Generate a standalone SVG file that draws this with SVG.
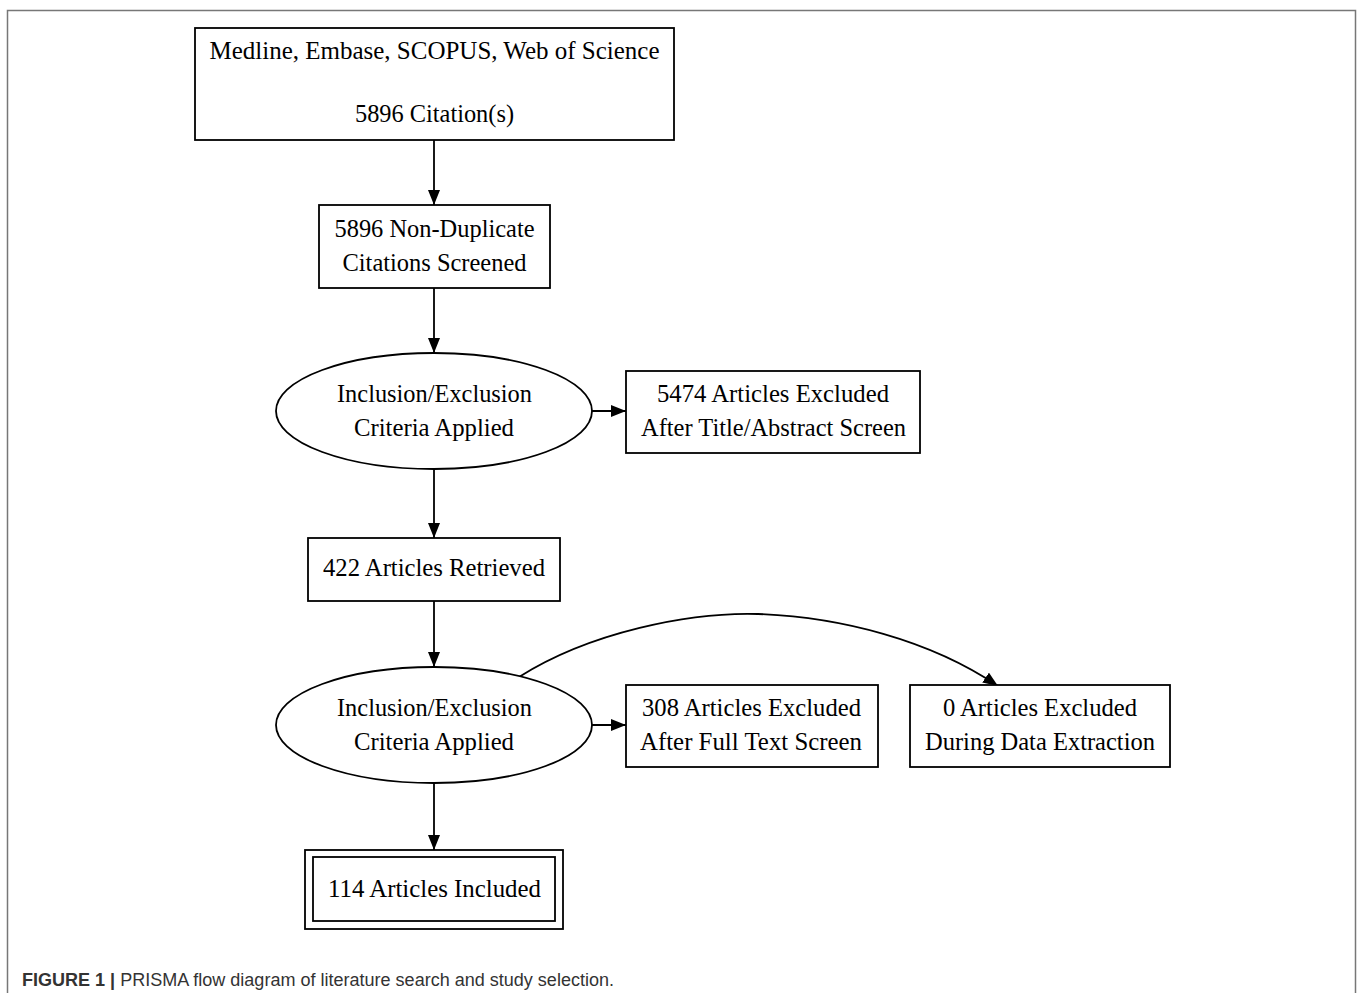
<svg xmlns="http://www.w3.org/2000/svg" width="1358" height="993" viewBox="0 0 1358 993">
<style>
.n{fill:#fff;stroke:#000;stroke-width:1.8}
.t{font-family:"Liberation Serif","Times New Roman",serif;font-size:25px;fill:#000;text-anchor:middle}
.e{fill:none;stroke:#000;stroke-width:1.8}
.cap{font-family:"Liberation Sans",Arial,sans-serif;font-size:17.5px;fill:#333}
</style>
<defs>
<marker id="ah" markerWidth="15" markerHeight="12" refX="15" refY="6" orient="auto" markerUnits="userSpaceOnUse" viewBox="0 0 15 12">
<path d="M0,0 L15,6 L0,12 Z" fill="#000"/>
</marker>
</defs>
<rect width="1358" height="993" fill="#fff"/>
<path d="M7.5,993 V10.5 H1355.5 V993" fill="none" stroke="#777" stroke-width="1.5"/>
<g id="connectors">
<path class="e" d="M434,140 V205" marker-end="url(#ah)"/>
<path class="e" d="M434,288 V353" marker-end="url(#ah)"/>
<path class="e" d="M592,411 H626" marker-end="url(#ah)"/>
<path class="e" d="M434,470 V538" marker-end="url(#ah)"/>
<path class="e" d="M434,601 V667" marker-end="url(#ah)"/>
<path class="e" d="M592,725 H626" marker-end="url(#ah)"/>
<path class="e" d="M519,677 C590,632 690,612 758,614 C840,617 930,640 998,686" marker-end="url(#ah)"/>
<path class="e" d="M434,783 V850" marker-end="url(#ah)"/>
</g>
<g id="n1"><rect class="n" x="195" y="28" width="479" height="112"/><text class="t" x="434.5" y="59" textLength="450" lengthAdjust="spacingAndGlyphs">Medline, Embase, SCOPUS, Web of Science</text><text class="t" x="434.5" y="122" textLength="159" lengthAdjust="spacingAndGlyphs">5896 Citation(s)</text></g>
<g id="n2"><rect class="n" x="319" y="205" width="231" height="83"/><text class="t" x="434.5" y="237" textLength="200" lengthAdjust="spacingAndGlyphs">5896 Non-Duplicate</text><text class="t" x="434.5" y="271" textLength="184" lengthAdjust="spacingAndGlyphs">Citations Screened</text></g>
<g id="n3"><ellipse class="n" cx="434" cy="411" rx="158" ry="58"/><text class="t" x="434.5" y="402" textLength="195" lengthAdjust="spacingAndGlyphs">Inclusion/Exclusion</text><text class="t" x="434" y="436" textLength="160" lengthAdjust="spacingAndGlyphs">Criteria Applied</text></g>
<g id="n4"><rect class="n" x="626" y="371" width="294" height="82"/><text class="t" x="773" y="402" textLength="232" lengthAdjust="spacingAndGlyphs">5474 Articles Excluded</text><text class="t" x="773.5" y="436" textLength="265" lengthAdjust="spacingAndGlyphs">After Title/Abstract Screen</text></g>
<g id="n5"><rect class="n" x="308" y="538" width="252" height="63"/><text class="t" x="434" y="576" textLength="222" lengthAdjust="spacingAndGlyphs">422 Articles Retrieved</text></g>
<g id="n6"><ellipse class="n" cx="434" cy="725" rx="158" ry="58"/><text class="t" x="434.5" y="716" textLength="195" lengthAdjust="spacingAndGlyphs">Inclusion/Exclusion</text><text class="t" x="434" y="750" textLength="160" lengthAdjust="spacingAndGlyphs">Criteria Applied</text></g>
<g id="n7"><rect class="n" x="626" y="685" width="252" height="82"/><text class="t" x="751.5" y="716" textLength="219" lengthAdjust="spacingAndGlyphs">308 Articles Excluded</text><text class="t" x="751" y="750" textLength="222" lengthAdjust="spacingAndGlyphs">After Full Text Screen</text></g>
<g id="n8"><rect class="n" x="910" y="685" width="260" height="82"/><text class="t" x="1040" y="716" textLength="194" lengthAdjust="spacingAndGlyphs">0 Articles Excluded</text><text class="t" x="1040" y="750" textLength="230" lengthAdjust="spacingAndGlyphs">During Data Extraction</text></g>
<g id="n9"><rect class="n" x="305" y="850" width="258" height="79"/><rect class="n" x="313" y="857" width="242" height="64"/><text class="t" x="434.5" y="897" textLength="213" lengthAdjust="spacingAndGlyphs">114 Articles Included</text></g>
<text class="cap" x="22" y="986" textLength="592" lengthAdjust="spacingAndGlyphs"><tspan font-weight="bold">FIGURE 1 |</tspan> PRISMA flow diagram of literature search and study selection.</text>
</svg>
